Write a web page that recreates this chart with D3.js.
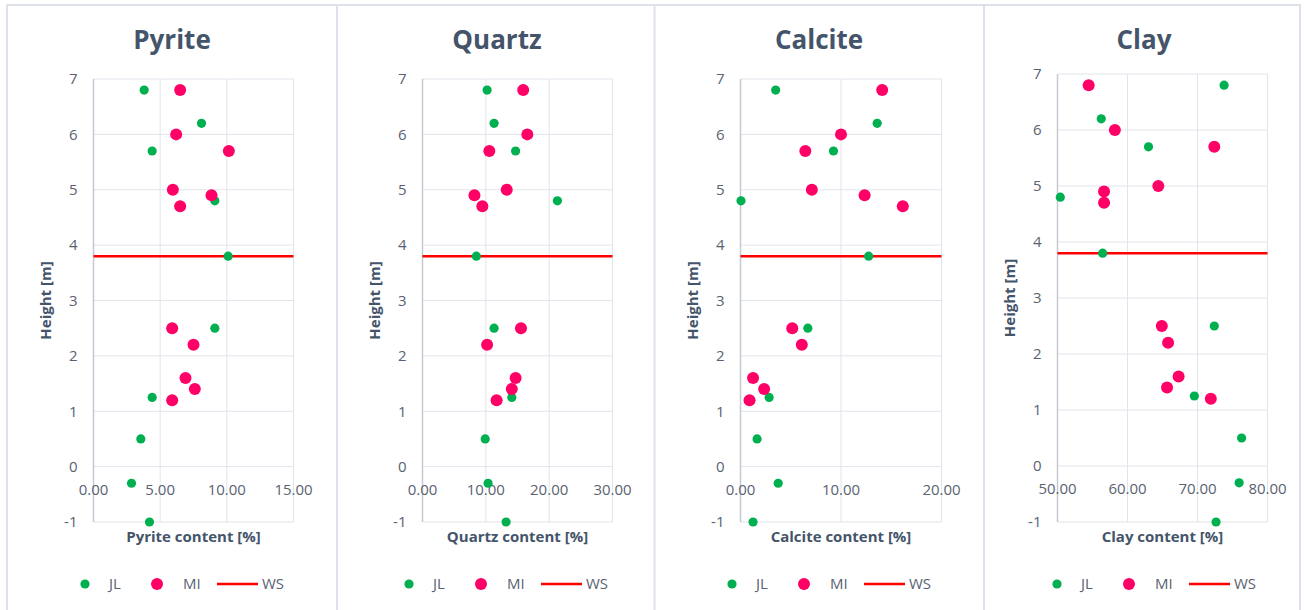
<!doctype html>
<html>
<head>
<meta charset="utf-8">
<title>Mineral content vs height</title>
<script src="https://cdn.jsdelivr.net/npm/d3@7"></script>
<style>
  body { margin: 0; background: #fff; }
  svg text { font-family: "Open Sans", "Noto Sans", sans-serif; }
</style>
</head>
<body>
<svg id="chart" width="1304" height="610"></svg>
<script>
// heights [m] of the samples
var heightsJL = [6.8, 6.2, 5.7, 4.8, 3.8, 2.5, 1.25, 0.5, -0.3, -1];
var heightsMI = [6.8, 6.0, 5.7, 5.0, 4.9, 4.7, 2.5, 2.2, 1.6, 1.4, 1.2];
var wsHeight = 3.8;

// contents [%]
var pyriteJL = [3.8, 8.1, 4.4, 9.1, 10.1, 9.1, 4.4, 3.55, 2.85, 4.2];
var pyriteMI = [6.5, 6.2, 10.15, 5.95, 8.85, 6.5, 5.9, 7.5, 6.9, 7.6, 5.9];
var quartzJL = [10.2, 11.3, 14.7, 21.3, 8.5, 11.3, 14.1, 9.9, 10.35, 13.2];
var quartzMI = [15.9, 16.55, 10.55, 13.3, 8.2, 9.45, 15.55, 10.2, 14.7, 14.1, 11.7];
var calciteJL = [3.5, 13.6, 9.25, 0.05, 12.75, 6.7, 2.85, 1.65, 3.75, 1.25];
var calciteMI = [14.1, 10.0, 6.45, 7.1, 12.35, 16.15, 5.15, 6.1, 1.25, 2.35, 0.9];
var clayJL = [73.8, 56.25, 63.0, 50.4, 56.45, 72.4, 69.55, 76.3, 75.95, 72.65];
var clayMI = [54.45, 58.2, 72.4, 64.4, 56.65, 56.65, 64.9, 65.8, 67.3, 65.65, 71.9];

var titles = ["Pyrite", "Quartz", "Calcite", "Clay"];
var xTitles = ["Pyrite content [%]", "Quartz content [%]", "Calcite content [%]", "Clay content [%]"];
var xDomains = [[0, 15], [0, 30], [0, 20], [50, 80]];
var xTickStep = [5, 10, 10, 10];
var yTicks = [7, 6, 5, 4, 3, 2, 1, 0, -1];
var seriesNames = ["JL", "MI", "WS"];

var jlData = [pyriteJL, quartzJL, calciteJL, clayJL];
var miData = [pyriteMI, quartzMI, calciteMI, clayMI];

// layout of the four panels
var panels = [
  {left: 93.5, right: 293.5, top: 79, bottom: 522, titleX: 172, legendX: 85},
  {left: 422.5, right: 612.5, top: 79, bottom: 522, titleX: 497, legendX: 409},
  {left: 740.5, right: 941.5, top: 79, bottom: 522, titleX: 819, legendX: 732},
  {left: 1057.5, right: 1267.5, top: 74, bottom: 522, titleX: 1144, legendX: 1057}
];

var cJL = "#00b050", cMI = "#ff0066", cWS = "#ff0000";
var gridC = "#e0e4eb", axisC = "#c4cad4", tickC = "#5a6272", titleC = "#44546a";

var svg = d3.select("#chart");

// frame
svg.append("rect").attr("x", 7).attr("y", 5).attr("width", 1293).attr("height", 610)
  .attr("fill", "none").attr("stroke", "#dde2ea").attr("stroke-width", 2);
[337, 654.5, 984].forEach(function (x) {
  svg.append("line").attr("x1", x).attr("x2", x).attr("y1", 5).attr("y2", 610)
    .attr("stroke", "#dde2ea").attr("stroke-width", 2);
});

panels.forEach(function (p, i) {
  var g = svg.append("g");
  var x = d3.scaleLinear().domain(xDomains[i]).range([p.left, p.right]);
  var y = d3.scaleLinear().domain([-1, 7]).range([p.bottom, p.top]);
  var xt = d3.range(xDomains[i][0], xDomains[i][1] + 0.001, xTickStep[i]);

  // horizontal grid
  g.append("g").selectAll("line").data(yTicks).enter().append("line")
    .attr("x1", p.left).attr("x2", p.right)
    .attr("y1", function (d) { return y(d); }).attr("y2", function (d) { return y(d); })
    .attr("stroke", gridC).attr("stroke-width", 1);
  // vertical grid
  g.append("g").selectAll("line").data(xt.slice(1)).enter().append("line")
    .attr("x1", function (d) { return x(d); }).attr("x2", function (d) { return x(d); })
    .attr("y1", p.top).attr("y2", p.bottom)
    .attr("stroke", gridC).attr("stroke-width", 1);
  // y axis line
  g.append("line").attr("x1", p.left).attr("x2", p.left).attr("y1", p.top).attr("y2", p.bottom)
    .attr("stroke", axisC).attr("stroke-width", 1.5);

  // y tick labels
  g.append("g").selectAll("text").data(yTicks).enter().append("text")
    .attr("x", p.left - 16).attr("y", function (d) { return y(d); })
    .attr("dy", "0.35em").attr("text-anchor", "end")
    .attr("font-size", 15).attr("fill", tickC)
    .text(function (d) { return d; });
  // x tick labels (axis crosses at 0)
  g.append("g").selectAll("text").data(xt).enter().append("text")
    .attr("x", function (d) { return x(d); }).attr("y", y(0) + 23)
    .attr("dy", "0.35em").attr("text-anchor", "middle")
    .attr("font-size", 15).attr("fill", tickC)
    .text(function (d) { return d3.format(".2f")(d); });

  // titles
  g.append("text").attr("x", p.titleX).attr("y", 49).attr("text-anchor", "middle")
    .attr("font-size", 26).attr("font-weight", "bold").attr("fill", titleC)
    .text(titles[i]);
  g.append("text").attr("x", (p.left + p.right) / 2).attr("y", 542).attr("text-anchor", "middle")
    .attr("font-size", 15).attr("font-weight", "bold").attr("fill", titleC)
    .text(xTitles[i]);
  var ym = (p.top + p.bottom) / 2;
  g.append("text").attr("transform", "translate(" + (p.left - 43) + "," + ym + ") rotate(-90)")
    .attr("text-anchor", "middle").attr("font-size", 15).attr("font-weight", "bold")
    .attr("fill", titleC).text("Height [m]");

  // WS line
  g.append("line").attr("x1", x(xDomains[i][0])).attr("x2", x(xDomains[i][1]))
    .attr("y1", y(wsHeight)).attr("y2", y(wsHeight))
    .attr("stroke", cWS).attr("stroke-width", 2.5);

  // JL points
  g.append("g").selectAll("circle").data(jlData[i]).enter().append("circle")
    .attr("cx", function (d) { return x(d); })
    .attr("cy", function (d, k) { return y(heightsJL[k]); })
    .attr("r", 4.6).attr("fill", cJL);
  // MI points
  g.append("g").selectAll("circle").data(miData[i]).enter().append("circle")
    .attr("cx", function (d) { return x(d); })
    .attr("cy", function (d, k) { return y(heightsMI[k]); })
    .attr("r", 6).attr("fill", cMI);

  // legend
  var lg = g.append("g").attr("transform", "translate(" + p.legendX + ",584)");
  lg.append("circle").attr("cx", 0).attr("cy", 0).attr("r", 4.6).attr("fill", cJL);
  lg.append("circle").attr("cx", 72).attr("cy", 0).attr("r", 6).attr("fill", cMI);
  lg.append("line").attr("x1", 132).attr("x2", 173).attr("y1", 0).attr("y2", 0)
    .attr("stroke", cWS).attr("stroke-width", 2.5);
  lg.selectAll("text").data(seriesNames).enter().append("text")
    .attr("x", function (d, k) { return [24, 98, 177][k]; }).attr("y", 0)
    .attr("dy", "0.35em").attr("font-size", 15).attr("fill", tickC)
    .text(function (d) { return d; });
});
</script>
</body>
</html>
